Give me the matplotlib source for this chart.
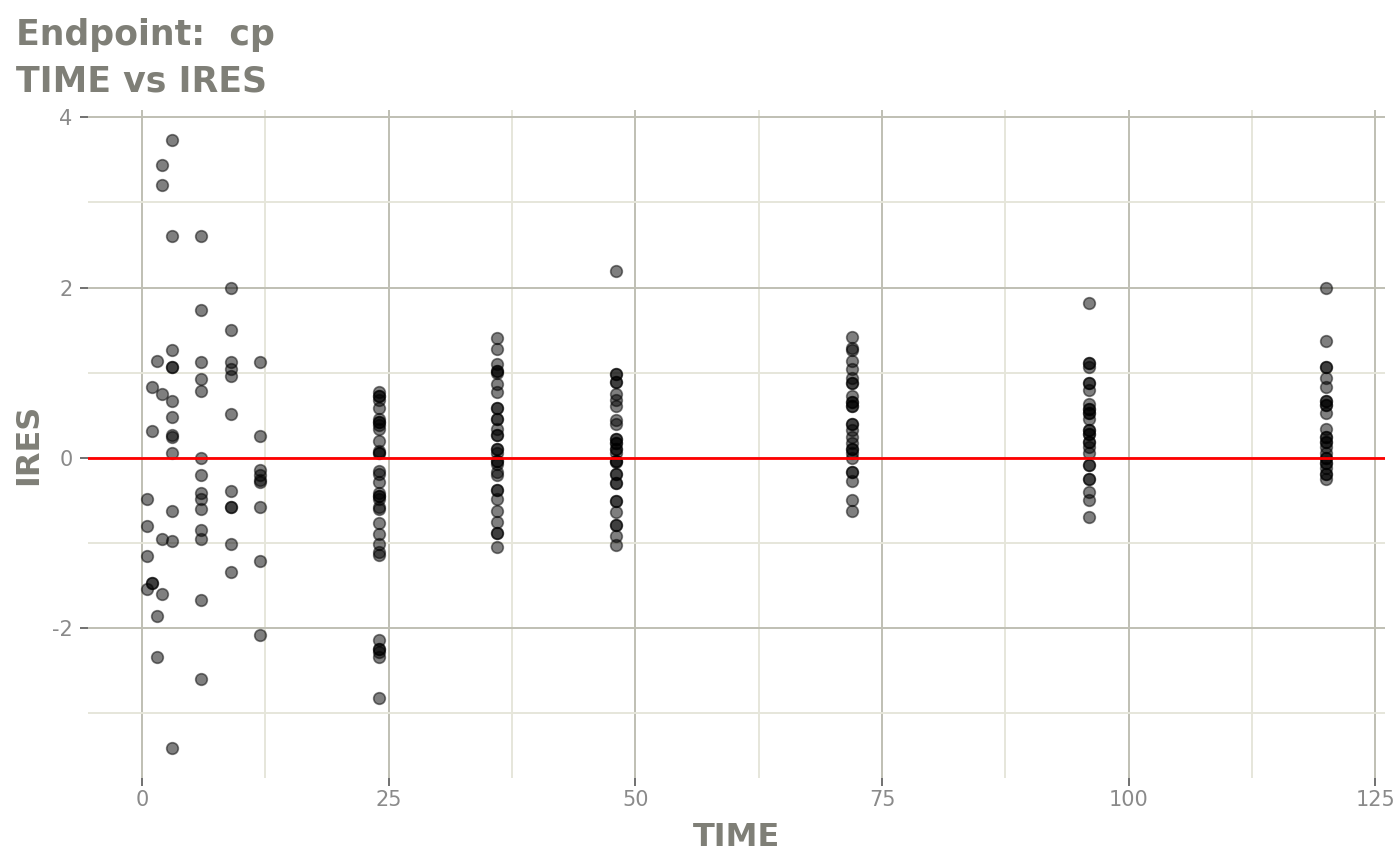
import numpy as np
import matplotlib as mpl
mpl.use('Agg')
import matplotlib.pyplot as plt
from matplotlib.ticker import MultipleLocator

plt.rcParams['axes.unicode_minus'] = False

# IRES values read per sampling time
times = [0.5, 1, 1.5, 2, 3, 6, 9, 12, 24, 36, 48, 72, 96, 120]
ires_t0_5 = [-0.49, -0.80, -1.16, -1.54]
ires_t1 = [0.83, 0.31, -1.48, -1.48]
ires_t1_5 = [1.14, -1.86, -2.35]
ires_t2 = [3.44, 3.20, 0.75, -0.96, -1.60]
ires_t3 = [3.73, 2.60, 1.26, 1.07, 1.07, 0.66, 0.48, 0.27, 0.24, 0.05,
           -0.63, -0.98, -3.41]
ires_t6 = [2.61, 1.73, 1.12, 0.92, 0.78, 0.00, -0.20, -0.42, -0.49, -0.60,
           -0.85, -0.96, -1.67, -2.60]
ires_t9 = [1.99, 1.50, 1.12, 1.04, 0.96, 0.51, -0.39, -0.58, -0.58, -1.02, -1.35]
ires_t12 = [1.12, 0.25, -0.15, -0.21, -0.26, -0.29, -0.58, -1.22, -2.08]
ires_t24 = [0.77, 0.73, 0.73, 0.68, 0.58, 0.45, 0.42, 0.42, 0.38, 0.34, 0.19,
            0.08, 0.06, 0.06, -0.16, -0.19, -0.29, -0.42, -0.45, -0.45, -0.49,
            -0.58, -0.61, -0.77, -0.90, -1.02, -1.11, -1.15, -2.14, -2.25,
            -2.25, -2.29, -2.35, -2.83]
ires_t36 = [1.41, 1.28, 1.10, 1.02, 1.02, 1.00, 0.87, 0.77, 0.58, 0.58, 0.45,
            0.45, 0.34, 0.27, 0.27, 0.10, 0.10, 0.06, -0.04, -0.04, -0.07,
            -0.17, -0.21, -0.38, -0.38, -0.49, -0.63, -0.76, -0.89, -0.89, -1.05]
ires_t48 = [2.19, 0.98, 0.98, 0.89, 0.89, 0.75, 0.68, 0.61, 0.44, 0.40, 0.22,
            0.22, 0.17, 0.17, 0.10, 0.10, 0.05, -0.04, -0.04, -0.05, -0.19,
            -0.19, -0.30, -0.30, -0.51, -0.51, -0.64, -0.79, -0.79, -0.92, -1.03]
ires_t72 = [1.42, 1.29, 1.26, 1.13, 1.04, 0.94, 0.88, 0.88, 0.73, 0.65, 0.65,
            0.61, 0.61, 0.39, 0.39, 0.32, 0.24, 0.17, 0.10, 0.10, 0.06, 0.00,
            -0.17, -0.17, -0.27, -0.50, -0.63]
ires_t96 = [1.82, 1.11, 1.11, 1.06, 0.88, 0.88, 0.80, 0.63, 0.57, 0.57, 0.52,
            0.52, 0.45, 0.32, 0.32, 0.28, 0.28, 0.18, 0.18, 0.12, 0.06, -0.09,
            -0.09, -0.25, -0.25, -0.40, -0.50, -0.70]
ires_t120 = [1.99, 1.37, 1.06, 1.06, 0.94, 0.83, 0.67, 0.67, 0.62, 0.62, 0.52,
             0.34, 0.24, 0.24, 0.18, 0.18, 0.12, 0.06, 0.00, 0.00, -0.06, -0.06,
             -0.12, -0.19, -0.19, -0.25]
ires_groups = [ires_t0_5, ires_t1, ires_t1_5, ires_t2, ires_t3, ires_t6, ires_t9,
               ires_t12, ires_t24, ires_t36, ires_t48, ires_t72, ires_t96, ires_t120]

x_ticks = [0, 25, 50, 75, 100, 125]
y_ticks = [-2, 0, 2, 4]

time = np.concatenate([[t] * len(g) for t, g in zip(times, ires_groups)])
ires = np.concatenate(ires_groups)

title_col = '#7f7f77'
tick_col = '#8a8a8a'
major_col = '#bfbfb3'
minor_col = '#e6e6da'

fig = plt.figure(figsize=(14, 8.65), dpi=100)
ax = fig.add_axes([88 / 1400, 1 - 778 / 865, (1385 - 88) / 1400, (778 - 110) / 865])

# ggplot style 5% expansion
xr = time.max() - time.min()
yr = ires.max() - ires.min()
ax.set_xlim(time.min() - 0.05 * xr, time.max() + 0.05 * xr)
ax.set_ylim(ires.min() - 0.05 * yr, ires.max() + 0.05 * yr)

ax.set_xticks(x_ticks)
ax.set_yticks(y_ticks)
ax.xaxis.set_minor_locator(MultipleLocator(12.5))
ax.yaxis.set_minor_locator(MultipleLocator(1))
ax.grid(which='minor', color=minor_col, lw=1.4)
ax.grid(which='major', color=major_col, lw=1.4)
ax.set_axisbelow(True)
for s in ax.spines.values():
    s.set_visible(False)
ax.tick_params(which='minor', length=0)
ax.tick_params(which='major', length=6, width=1.4, color='#707070',
               labelsize=15, labelcolor=tick_col)
ax.tick_params(axis='y', pad=5)
ax.tick_params(axis='x', pad=3)

ax.scatter(time, ires, s=70, facecolor='black', edgecolor='black', lw=1.2,
           alpha=0.5, zorder=3)
ax.axhline(0, color='#ff0000', lw=2, zorder=4)

ax.set_xlabel('TIME', fontsize=23, fontweight='bold', color=title_col, labelpad=8)
ax.set_ylabel('IRES', fontsize=23, fontweight='bold', color=title_col, labelpad=6)

fig.text(16 / 1400, 1 - 45 / 865, 'Endpoint:  cp', fontsize=25, fontweight='bold',
         color=title_col, va='baseline', ha='left')
fig.text(16 / 1400, 1 - 92 / 865, 'TIME vs IRES', fontsize=25, fontweight='bold',
         color=title_col, va='baseline', ha='left')

fig.savefig('out.png', dpi=100)
